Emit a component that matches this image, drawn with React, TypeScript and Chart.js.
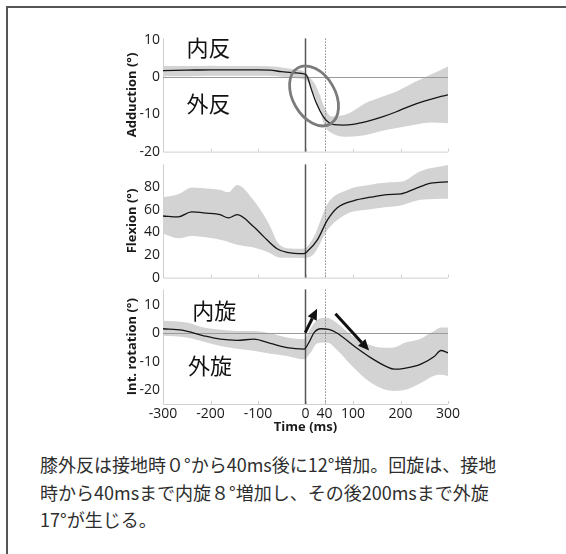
import React, { useEffect, useRef } from "react";
import { Chart, registerables } from "chart.js";
Chart.register(...registerables);

// ---------- tick labels ----------
const timeTicks = [-300, -200, -100, 0, 40, 100, 200, 300];
const addTicks = [-20, -10, 0, 10];
const flexTicks = [0, 20, 40, 60, 80];
const rotTicks = [-20, -10, 0, 10];

// ---------- Adduction ----------
const addMeanX = [-300, -250, -200, -150, -100, -75, -50, -25, 0, 5, 10, 15, 20, 25, 30, 40, 50, 60, 80, 100, 130, 160, 190, 220, 250, 280, 300];
const addMean = [1.7, 1.8, 1.9, 1.9, 1.9, 1.8, 1.4, 1.1, 0.7, -0.3, -2.4, -4.3, -6.1, -7.6, -9.0, -11.1, -12.3, -12.8, -12.9, -12.7, -11.9, -10.8, -9.4, -7.8, -6.5, -5.4, -4.8];
const addBandX = [-300, -250, -200, -150, -100, -60, -30, 0, 10, 20, 30, 40, 55, 90, 125, 160, 195, 230, 265, 300];
const addUpper = [2.9, 2.9, 3.0, 2.9, 2.9, 2.7, 2.1, 1.2, -0.3, -1.9, -4.8, -8.2, -10.6, -9.8, -7.1, -5.4, -3.7, -1.4, 0.7, 2.8];
const addLower = [0.2, 0.2, 0.3, 0.3, 0.3, 0.2, -0.2, -0.8, -2.4, -5.3, -8.7, -13.0, -15.0, -16.0, -15.6, -14.5, -13.6, -12.8, -12.2, -12.4];

// ---------- Flexion ----------
const flexMeanX = [-300, -268, -240, -208, -180, -162, -144, -109, -88, -60, -39, -4, 4, 25, 46, 67, 102, 137, 172, 201, 229, 264, 300];
const flexMean = [54.4, 53.6, 58, 57, 55.6, 52.7, 55.6, 44.9, 36.2, 25.5, 22.3, 21.1, 23.2, 33.3, 50.7, 61.7, 68, 71, 73.3, 73.9, 78.2, 83.5, 84.6];
const flexBandX = [-300, -267, -239, -200, -179, -162, -144, -109, -74, -60, -39, -4, 18, 46, 88, 130, 172, 201, 243, 300];
const flexUpper = [71, 73.9, 79.7, 78.5, 77.4, 75.3, 81.7, 68, 44.9, 31.8, 26, 25.5, 36.2, 65, 77.4, 81.5, 84, 84.6, 94.2, 99.4];
const flexLower = [39, 34.8, 36.8, 35, 33.5, 31.5, 29, 26.5, 21.5, 18.3, 17.5, 17.4, 21, 42, 56.5, 60, 62.3, 63.7, 68.7, 69.6];

// ---------- Int. rotation ----------
const rotMeanX = [-300, -260, -214, -179, -144, -109, -74, -39, -3, 7, 18, 32, 49, 67, 102, 137, 172, 187, 208, 243, 271, 285, 300];
const rotMean = [1.6, 1.1, -0.9, -2.1, -2.5, -2.1, -3.6, -5.1, -5.6, -3.3, 0.2, 1.6, 1.4, 0.0, -4.5, -8.6, -11.9, -12.7, -12.4, -10.9, -8.2, -6.1, -6.9];
const rotBandX = [-300, -250, -214, -179, -144, -109, -74, -39, -3, 10, 25, 45, 67, 95, 130, 165, 187, 210, 240, 271, 285, 300];
const rotUpper = [4.4, 3.8, 2.0, 1.2, 0.8, 0.8, 0.0, -1.5, -2.1, 1.5, 4.8, 5.5, 3.5, -0.5, -3.8, -5.1, -5.0, -3.3, -2.1, 0.8, 2.0, 2.0];
const rotLower = [-0.9, -1.5, -3.0, -4.5, -5.5, -6.2, -7.2, -8.0, -9.2, -7.0, -3.5, -3.3, -6.0, -11.0, -16.5, -19.8, -20.4, -20.0, -17.8, -15.0, -14.7, -15.1];

const captionLines = [
  "膝外反は接地時０°から40ms後に12°増加。回旋は、接地",
  "時から40msまで内旋８°増加し、その後200msまで外旋",
  "17°が生じる。",
];

const FONT = "'Open Sans', 'DejaVu Sans', sans-serif";
const JP = "'Noto Sans CJK JP', sans-serif";

const pts = (xs: number[], ys: number[]) => xs.map((x, i) => ({ x, y: ys[i] }));

function jpLabel(ctx: CanvasRenderingContext2D, text: string, x: number, y: number) {
  ctx.save();
  ctx.font = `22px ${JP}`;
  ctx.fillStyle = "#111";
  ctx.textAlign = "center";
  ctx.textBaseline = "middle";
  ctx.fillText(text, x, y);
  ctx.restore();
}

function arrow(ctx: CanvasRenderingContext2D, x1: number, y1: number, x2: number, y2: number) {
  const ang = Math.atan2(y2 - y1, x2 - x1);
  const hl = 11, hw = 5;
  const bx = x2 - hl * Math.cos(ang), by = y2 - hl * Math.sin(ang);
  ctx.save();
  ctx.strokeStyle = "#111";
  ctx.fillStyle = "#111";
  ctx.lineWidth = 3;
  ctx.beginPath();
  ctx.moveTo(x1, y1);
  ctx.lineTo(bx, by);
  ctx.stroke();
  ctx.beginPath();
  ctx.moveTo(x2, y2);
  ctx.lineTo(bx + hw * Math.sin(ang), by - hw * Math.cos(ang));
  ctx.lineTo(bx - hw * Math.sin(ang), by + hw * Math.cos(ang));
  ctx.closePath();
  ctx.fill();
  ctx.restore();
}

function annotateAdd(chart: any) {
  const { ctx, scales: { x, y } } = chart;
  jpLabel(ctx, "内反", x.getPixelForValue(-204), y.getPixelForValue(7.8));
  jpLabel(ctx, "外反", x.getPixelForValue(-204), y.getPixelForValue(-7.1));
  ctx.save();
  ctx.strokeStyle = "#7b7b7b";
  ctx.lineWidth = 2.8;
  ctx.beginPath();
  ctx.ellipse(x.getPixelForValue(18), y.getPixelForValue(-5.1), 32.4, 21.2, Math.PI / 3, 0, Math.PI * 2);
  ctx.stroke();
  ctx.restore();
}

function annotateRot(chart: any) {
  const { ctx, scales: { x, y } } = chart;
  jpLabel(ctx, "内旋", x.getPixelForValue(-192), y.getPixelForValue(8.1));
  jpLabel(ctx, "外旋", x.getPixelForValue(-201), y.getPixelForValue(-11.4));
  arrow(ctx, x.getPixelForValue(-0.5), y.getPixelForValue(0.2), x.getPixelForValue(24.4), y.getPixelForValue(8.7));
  arrow(ctx, x.getPixelForValue(63), y.getPixelForValue(6.9), x.getPixelForValue(134), y.getPixelForValue(-6.1));
}

type PanelProps = {
  meanX: number[]; mean: number[]; bandX: number[]; upper: number[]; lower: number[];
  yMin: number; yMax: number; yTicks: number[]; yTitle: string; showTime: boolean; zero: boolean;
  annotate?: (c: any) => void; top: number; height: number;
};

function Panel(p: PanelProps) {
  const ref = useRef<HTMLCanvasElement>(null);
  useEffect(() => {
    if (!ref.current) return;
    const refPlugin = {
      id: "refs",
      beforeDatasetsDraw(chart: any) {
        const { ctx, chartArea: a, scales: { x } } = chart;
        ctx.save();
        ctx.strokeStyle = "#cfcfcf";
        ctx.lineWidth = 1;
        ctx.beginPath();
        ctx.moveTo(a.left + 0.5, a.top);
        ctx.lineTo(a.left + 0.5, a.bottom + 0.5);
        ctx.lineTo(a.right, a.bottom + 0.5);
        ctx.stroke();
        ctx.beginPath();
        timeTicks.forEach((t) => {
          const px = Math.round(x.getPixelForValue(t)) + 0.5;
          ctx.moveTo(px, a.bottom);
          ctx.lineTo(px, a.bottom - 3);
        });
        ctx.stroke();
        ctx.restore();
      },
      beforeDatasetDraw(chart: any, args: any) {
        if (args.index !== 0) return;
        const { ctx, chartArea: a, scales: { x, y } } = chart;
        ctx.save();
        if (p.zero) {
          const py = Math.round(y.getPixelForValue(0)) + 0.5;
          ctx.strokeStyle = "#9a9a9a";
          ctx.lineWidth = 1;
          ctx.beginPath();
          ctx.moveTo(a.left, py);
          ctx.lineTo(a.right, py);
          ctx.stroke();
        }
        const p0 = x.getPixelForValue(0);
        ctx.strokeStyle = "#555";
        ctx.lineWidth = 1.5;
        ctx.beginPath();
        ctx.moveTo(p0, a.top);
        ctx.lineTo(p0, a.bottom);
        ctx.stroke();
        const p40 = Math.round(x.getPixelForValue(40)) + 0.5;
        ctx.strokeStyle = "#8a8a8a";
        ctx.lineWidth = 1;
        ctx.setLineDash([1.5, 1.5]);
        ctx.beginPath();
        ctx.moveTo(p40, a.top);
        ctx.lineTo(p40, a.bottom);
        ctx.stroke();
        ctx.restore();
      },
      afterDatasetsDraw(chart: any) {
        if (p.annotate) p.annotate(chart);
      },
    };
    const chart = new Chart(ref.current, {
      type: "line",
      data: {
        datasets: [
          { data: pts(p.meanX, p.mean), borderWidth: 1.3, borderColor: "#151515", pointRadius: 0, fill: false, cubicInterpolationMode: "monotone" } as any,
          { data: pts(p.bandX, p.upper), borderWidth: 0, pointRadius: 0, backgroundColor: "#d3d3d3", fill: "+1", cubicInterpolationMode: "monotone" } as any,
          { data: pts(p.bandX, p.lower), borderWidth: 0, pointRadius: 0, backgroundColor: "#d3d3d3", fill: false, cubicInterpolationMode: "monotone" } as any,
        ],
      },
      options: {
        animation: false,
        responsive: false,
        events: [],
        layout: { padding: { top: 10, bottom: p.showTime ? 2 : 10, left: 0, right: 22 } },
        plugins: { legend: { display: false }, tooltip: { enabled: false } },
        scales: {
          x: {
            type: "linear",
            min: -300,
            max: 300,
            display: p.showTime,
            afterBuildTicks: (s: any) => { s.ticks = timeTicks.map((v) => ({ value: v })); },
            afterFit: (s: any) => { if (p.showTime) s.height = 31; },
            grid: { display: false, drawTicks: false },
            border: { display: false },
            ticks: { autoSkip: false, maxRotation: 0, padding: 2, color: "#1a1a1a", font: { family: FONT, size: 14 } },
            title: { display: true, text: "Time (ms)", color: "#1a1a1a", padding: { top: 0, bottom: 0 }, font: { family: FONT, size: 13, weight: "bold" } },
          },
          y: {
            type: "linear",
            min: p.yMin,
            max: p.yMax,
            afterBuildTicks: (s: any) => { s.ticks = p.yTicks.map((v) => ({ value: v })); },
            afterFit: (s: any) => { s.width = 43; },
            grid: { display: false, drawTicks: false },
            border: { display: false },
            ticks: { padding: 3, color: "#1a1a1a", font: { family: FONT, size: 14 } },
            title: { display: true, text: p.yTitle, color: "#1a1a1a", padding: { top: 4, bottom: 0 }, font: { family: FONT, size: 13, weight: "bold" } },
          },
        },
      } as any,
      plugins: [refPlugin],
    });
    return () => chart.destroy();
  }, []);
  return (
    <canvas ref={ref} width={350} height={p.height}
      style={{ position: "absolute", left: 120, top: p.top, width: 350, height: p.height }} />
  );
}

export default function App() {
  return (
    <div style={{ position: "fixed", left: 0, top: 0, width: 566, height: 554, overflow: "hidden", background: "#fff" }}>
      <div style={{ position: "absolute", left: 6, top: 6, width: 700, height: 700, borderLeft: "2px solid #555", borderTop: "2px solid #555" }} />
      <Panel meanX={addMeanX} mean={addMean} bandX={addBandX} upper={addUpper} lower={addLower}
        yMin={-20} yMax={10.3} yTicks={addTicks} yTitle="Adduction (°)" showTime={false} zero={true}
        annotate={annotateAdd} top={27} height={136} />
      <Panel meanX={flexMeanX} mean={flexMean} bandX={flexBandX} upper={flexUpper} lower={flexLower}
        yMin={0} yMax={100} yTicks={flexTicks} yTitle="Flexion (°)" showTime={false} zero={false}
        top={153} height={136} />
      <Panel meanX={rotMeanX} mean={rotMean} bandX={rotBandX} upper={rotUpper} lower={rotLower}
        yMin={-25} yMax={15.5} yTicks={rotTicks} yTitle="Int. rotation (°)" showTime={true} zero={true}
        annotate={annotateRot} top={278} height={159} />
      <div style={{ position: "absolute", left: 40, top: 451, fontFamily: JP, fontSize: 18, lineHeight: "27.5px", color: "#2e2e2e", whiteSpace: "nowrap" }}>
        {captionLines.map((l, i) => (<div key={i}>{l}</div>))}
      </div>
    </div>
  );
}
